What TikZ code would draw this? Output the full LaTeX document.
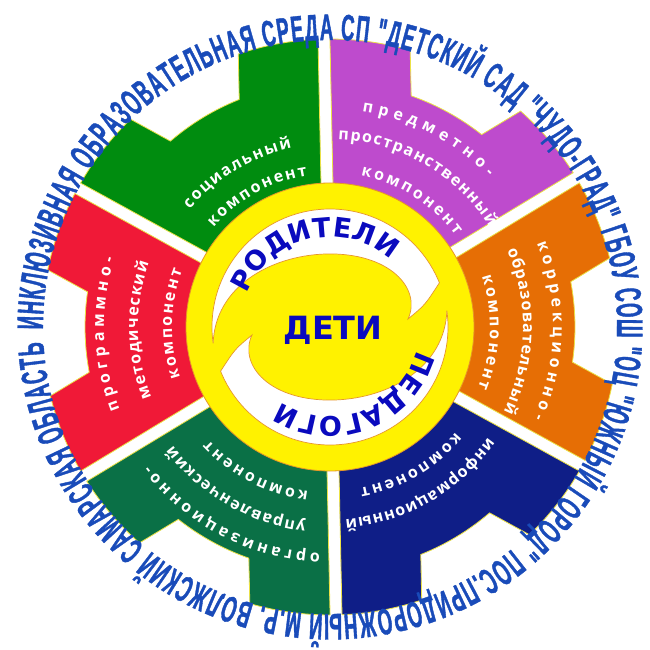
\documentclass[tikz,border=0pt]{standalone}
\usepackage{fontspec}
\usetikzlibrary{decorations.text}
\newfontfamily\rimfont{Liberation Sans Bold}[FakeStretch=0.5, FakeBold=1]
\newfontfamily\secfont{Open Sans}
\newfontfamily\midfont{DejaVu Sans}
\newcommand{\rimstyle}{\rimfont\fontsize{37}{37}\selectfont}
\newcommand{\secstyle}{\secfont\bfseries\fontsize{16}{16}\selectfont}
\newcommand{\bandstyle}{\midfont\bfseries\fontsize{27}{27}\selectfont}
\definecolor{gearGreen}{RGB}{0,140,15}
\definecolor{gearPurple}{RGB}{190,75,205}
\definecolor{gearOrange}{RGB}{230,110,5}
\definecolor{gearRed}{RGB}{240,25,55}
\definecolor{gearDkGreen}{RGB}{10,112,70}
\definecolor{gearNavy}{RGB}{15,30,135}
\definecolor{gearEdge}{RGB}{235,225,70}
\definecolor{hubYellow}{RGB}{255,242,0}
\definecolor{hubEdge}{RGB}{230,150,40}
\definecolor{midBlue}{RGB}{10,10,190}
\definecolor{rimBlue}{RGB}{25,75,185}
\tikzset{
  sector/.style={draw=gearEdge, line width=0.8pt},
  hub/.style={fill=hubYellow, draw=hubEdge, line width=0.8pt},
  band/.style={fill=white, draw=hubEdge, line width=0.7pt},
  rimtext/.style={decorate, decoration={text along path, text align={fit to path}, text color=rimBlue}},
  sectext/.style={decorate, decoration={text along path, text align={fit to path}, text color=white}},
  bandtext/.style={decorate, decoration={text along path, text align={fit to path}, text color=midBlue}}
}
\begin{document}
\begin{tikzpicture}[x=1pt, y=1pt]
  \useasboundingbox (-330,-323) rectangle (319,327);
  \foreach \a/\col in {90/gearGreen, 30/gearPurple, -30/gearOrange, -90/gearNavy, -150/gearDkGreen, 150/gearRed}
    \filldraw[sector, fill=\col, rotate=\a+1.2] (10,6) -- (1.19:288) arc[start angle=1.19, end angle=17.37, radius=288]
      -- (20.55:245) arc[start angle=20.55, end angle=39.45, radius=245]
      -- (42.63:288) arc[start angle=42.63, end angle=58.81, radius=288] -- (10.2,5.66) -- cycle;
  \filldraw[hub] (0,0) circle [radius=144];
  \filldraw[band] (188:118) arc[start angle=188, end angle=22, radius=118] .. controls (95,22) .. (78,8)
    .. controls (92,38) and (60,75) .. (-5,73) .. controls (-60,71) and (-115,40) .. cycle;
  \filldraw[band, rotate=180] (188:118) arc[start angle=188, end angle=22, radius=118] .. controls (95,22) .. (78,8)
    .. controls (92,38) and (60,75) .. (-5,73) .. controls (-60,71) and (-115,40) .. cycle;
  \node[font=\midfont\bfseries\fontsize{32}{32}\selectfont, text=midBlue] (deti) at (3,-3) {ДЕТИ};
  \path[bandtext, decoration={text={|\bandstyle|РОДИТЕЛИ}}] (158:90) arc[start angle=158, end angle=48, radius=90];
  \path[bandtext, decoration={text={|\bandstyle|ПЕДАГОГИ}}] (-15:90) arc[start angle=-15, end angle=-123, radius=90];
  \path[sectext, decoration={text={|\secstyle|социальный}}] (140:183) arc[start angle=140, end angle=102, radius=183];
  \path[sectext, decoration={text={|\secstyle|компонент}}] (139.5:153) arc[start angle=139.5, end angle=98.5, radius=153];
  \path[sectext, decoration={text={|\secstyle|предметно-}}] (81.5:218) arc[start angle=81.5, end angle=43.5, radius=218];
  \path[sectext, decoration={text={|\secstyle|пространственный}}] (87.5:188) arc[start angle=87.5, end angle=32, radius=188];
  \path[sectext, decoration={text={|\secstyle|компонент}}] (78.5:155) arc[start angle=78.5, end angle=36, radius=155];
  \path[sectext, decoration={text={|\secstyle|коррекционно-}}] (22:223) arc[start angle=22, end angle=-24, radius=223];
  \path[sectext, decoration={text={|\secstyle|образовательный}}] (23.5:193) arc[start angle=23.5, end angle=-26, radius=193];
  \path[sectext, decoration={text={|\secstyle|компонент}}] (18.5:160) arc[start angle=18.5, end angle=-22.5, radius=160];
  \path[sectext, decoration={text={|\secstyle|программно-}}] (201.5:226) arc[start angle=201.5, end angle=162.5, radius=226];
  \path[sectext, decoration={text={|\secstyle|методический}}] (201.5:192) arc[start angle=201.5, end angle=160.5, radius=192];
  \path[sectext, decoration={text={|\secstyle|компонент}}] (198.5:158) arc[start angle=198.5, end angle=159, radius=158];
  \path[sectext, decoration={text={|\secstyle|организационно-}}] (267.5:227) arc[start angle=267.5, end angle=217.5, radius=227];
  \path[sectext, decoration={text={|\secstyle|управленческий}}] (263:197) arc[start angle=263, end angle=217, radius=197];
  \path[sectext, decoration={text={|\secstyle|компонент}}] (262.5:166) arc[start angle=262.5, end angle=223, radius=166];
  \path[sectext, decoration={text={|\secstyle|информационный}}] (-35:193) arc[start angle=-35, end angle=-85.5, radius=193];
  \path[sectext, decoration={text={|\secstyle|компонент}}] (-40:164) arc[start angle=-40, end angle=-79.5, radius=164];
  \path[rimtext, decoration={text={|\rimstyle|ИНКЛЮЗИВНАЯ ОБРАЗОВАТЕЛЬНАЯ СРЕДА СП "ДЕТСКИЙ САД "ЧУДО-ГРАД" ГБОУ СОШ "ОЦ "ЮЖНЫЙ ГОРОД" ПОС.ПРИДОРОЖНЫЙ М.Р. ВОЛЖСКИЙ САМАРСКАЯ ОБЛАСТЬ}}]
    (180.5:287) arc[start angle=180.5, end angle=-177, radius=287];
\end{tikzpicture}
\end{document}
